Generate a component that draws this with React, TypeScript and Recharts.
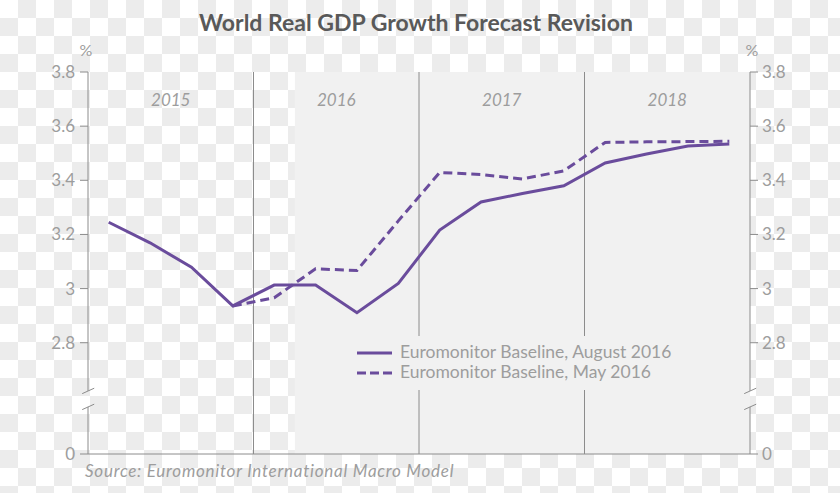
import { ComposedChart, Line, XAxis, YAxis, ReferenceArea, ReferenceLine } from "recharts";

// quarterly points, 2015 Q1 .. 2018 Q4
const quarters = [
  "2015Q1", "2015Q2", "2015Q3", "2015Q4",
  "2016Q1", "2016Q2", "2016Q3", "2016Q4",
  "2017Q1", "2017Q2", "2017Q3", "2017Q4",
  "2018Q1", "2018Q2", "2018Q3", "2018Q4",
];
const years = ["2015", "2016", "2017", "2018"];

const augustBaseline = [
  3.245, 3.169, 3.079, 2.936, 3.013, 3.013, 2.911, 3.019,
  3.216, 3.32, 3.351, 3.38, 3.464, 3.497, 3.527, 3.534,
];
const mayBaseline = [
  null, null, null, 2.936, 2.966, 3.073, 3.067, 3.25,
  3.429, 3.421, 3.405, 3.435, 3.54, 3.542, 3.543, 3.544,
];

const yTicks = [2.8, 3, 3.2, 3.4, 3.6, 3.8];
// the axis is broken: its bottom end stands for 0
const AXIS_FLOOR = 2.389;
const BREAK_LOW = 2.563;
const BREAK_HIGH = 2.622;
const forecastStart = "2016Q2";

const PURPLE = "#6a4c9c";
const AXIS = "#8c8c8c";
const GREY_TEXT = "#9d9d9d";
const FONT = "Lato, 'Open Sans', sans-serif";

const chartData = quarters.map((q, i) => ({
  q,
  pos: i + 0.5,
  aug: augustBaseline[i],
  may: mayBaseline[i],
}));

const n = quarters.length;
const allTicks = [AXIS_FLOOR, ...yTicks];
const fmt = (v: number) => (v === AXIS_FLOOR ? "0" : String(v));
const tickStyle = { fill: GREY_TEXT, fontSize: 17, fontFamily: FONT };

const axisPieces = (x: number, id: string) => [
  <ReferenceLine key={id + "a"} yAxisId="left" ifOverflow="visible" stroke={AXIS}
    segment={[{ x, y: AXIS_FLOOR }, { x, y: BREAK_LOW }]} />,
  <ReferenceLine key={id + "b"} yAxisId="left" ifOverflow="visible" stroke={AXIS}
    segment={[{ x, y: BREAK_HIGH }, { x, y: 3.8 }]} />,
  <ReferenceLine key={id + "c"} yAxisId="left" ifOverflow="visible" stroke={AXIS}
    segment={[{ x: x - 0.14, y: BREAK_HIGH - 0.01 }, { x: x + 0.15, y: BREAK_HIGH + 0.01 }]} />,
  <ReferenceLine key={id + "d"} yAxisId="left" ifOverflow="visible" stroke={AXIS}
    segment={[{ x: x - 0.14, y: BREAK_LOW - 0.01 }, { x: x + 0.15, y: BREAK_LOW + 0.01 }]} />,
];

export default function App() {
  const firstQ = (y: string) => quarters.indexOf(`${y}Q1`);
  return (
    <div
      style={{
        position: "absolute",
        left: 0,
        top: 0,
        width: 840,
        height: 493,
        backgroundColor: "#fff",
        backgroundImage: "repeating-conic-gradient(#ececec 0% 25%, #ffffff 0% 50%)",
        backgroundSize: "36px 36px",
      }}
    >
      <ComposedChart
        width={840}
        height={493}
        data={chartData}
        margin={{ top: 72, right: 0, left: 0, bottom: 0 }}
        style={{ position: "absolute", left: 0, top: 0 }}
      >
        <ReferenceArea
          yAxisId="left"
          x1={quarters.indexOf(forecastStart)}
          x2={n}
          fill="#f1f1f1"
          fillOpacity={1}
          stroke="none"
        />
        {years.map((y) => (
          <ReferenceArea
            key={y}
            yAxisId="left"
            x1={firstQ(y)}
            x2={firstQ(y) + 4}
            fill="none"
            stroke="none"
            label={{
              value: y,
              position: "insideTop",
              offset: 22,
              fill: GREY_TEXT,
              fontSize: 17,
              fontStyle: "italic",
              fontFamily: FONT,
            }}
          />
        ))}
        {years.slice(1).map((y) => (
          <ReferenceLine key={"sep" + y} yAxisId="left" x={firstQ(y)} stroke={AXIS} />
        ))}
        <XAxis
          dataKey="pos"
          type="number"
          domain={[0, n]}
          ticks={quarters.slice(1).map((_, i) => i + 1)}
          height={39}
          tick={false}
          tickSize={-8}
          stroke={AXIS}
          axisLine={{ stroke: AXIS }}
          tickLine={{ stroke: AXIS }}
        />
        <YAxis
          yAxisId="left"
          width={88}
          domain={[AXIS_FLOOR, 3.8]}
          ticks={allTicks}
          tickFormatter={fmt}
          tick={tickStyle}
          tickSize={8}
          tickMargin={5}
          axisLine={false}
          tickLine={{ stroke: AXIS }}
          allowDataOverflow
        />
        <YAxis
          yAxisId="right"
          orientation="right"
          width={90}
          domain={[AXIS_FLOOR, 3.8]}
          ticks={allTicks}
          tickFormatter={fmt}
          tick={{ ...tickStyle, textAnchor: "start" }}
          tickSize={8}
          tickMargin={4}
          axisLine={false}
          tickLine={{ stroke: AXIS }}
          allowDataOverflow
        />
        {axisPieces(0, "L")}
        {axisPieces(n, "R")}
        <Line
          yAxisId="left"
          dataKey="aug"
          type="linear"
          stroke={PURPLE}
          strokeWidth={3}
          dot={false}
          activeDot={false}
          isAnimationActive={false}
          connectNulls={false}
        />
        <Line
          yAxisId="left"
          dataKey="may"
          type="linear"
          stroke={PURPLE}
          strokeWidth={3}
          strokeDasharray="9 5"
          dot={false}
          activeDot={false}
          isAnimationActive={false}
        />
      </ComposedChart>

      <svg
        width={840}
        height={493}
        style={{ position: "absolute", left: 0, top: 0, pointerEvents: "none" }}
        fontFamily={FONT}
      >
        <text x={416} y={31} textAnchor="middle" fontSize={23} fontWeight="bold" fill="#595959">
          World Real GDP Growth Forecast Revision
        </text>
        <text x={86} y={56} textAnchor="middle" fontSize={16} fill={GREY_TEXT}>%</text>
        <text x={752} y={56} textAnchor="middle" fontSize={16} fill={GREY_TEXT}>%</text>

        <rect x={345} y={336} width={335} height={54} fill="#f1f1f1" />
        <line x1={357} x2={392} y1={353} y2={353} stroke={PURPLE} strokeWidth={3} />
        <text x={400} y={358} fontSize={17.5} fill={GREY_TEXT}>Euromonitor Baseline, August 2016</text>
        <line x1={357} x2={392} y1={373} y2={373} stroke={PURPLE} strokeWidth={3} strokeDasharray="9 4" />
        <text x={400} y={378} fontSize={17.5} fill={GREY_TEXT}>Euromonitor Baseline, May 2016</text>

        <text x={85} y={477} fontSize={17} fontStyle="italic" letterSpacing={0.75} fill={GREY_TEXT}>
          Source: Euromonitor International Macro Model
        </text>
      </svg>
    </div>
  );
}
